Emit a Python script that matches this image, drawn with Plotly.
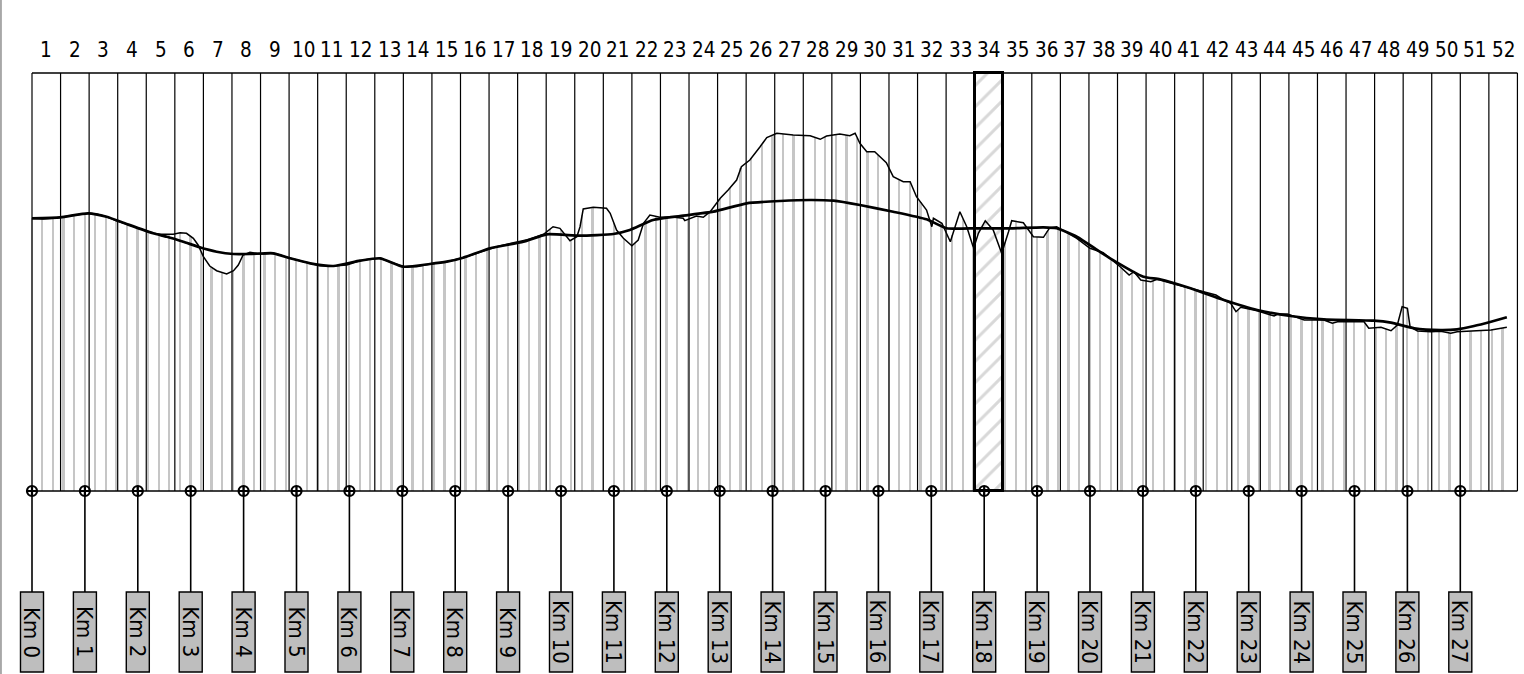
import numpy as np
import plotly.graph_objects as go

# ---------------- data ----------------
column_labels = [str(i) for i in range(1, 53)]
column_width_km = 0.54
highlight_column = 34
frame_top = 418          # elevation of the frame top (m above datum)
km_marks = list(range(0, 28))
km_labels = [f"Km {k}" for k in km_marks]
hatch_step_km = 0.2

terrain_km = [0.00, 0.21, 0.40, 0.54, 0.78, 1.06, 1.22, 1.41, 1.60, 1.79, 1.98, 2.17, 2.29, 2.42,
              2.55, 2.67, 2.80, 2.92, 3.05, 3.14, 3.24, 3.36, 3.49, 3.68, 3.81, 3.90, 3.99, 4.12,
              4.25, 4.37, 4.56, 4.69, 4.88, 5.07, 5.26, 5.44, 5.70, 5.95, 6.20, 6.39, 6.58, 6.77,
              7.02, 7.27, 7.52, 7.84, 8.15, 8.47, 8.78, 9.10, 9.41, 9.67, 9.85, 9.98, 10.08, 10.17,
              10.30, 10.36, 10.42, 10.61, 10.86, 10.93, 11.05, 11.18, 11.34, 11.46, 11.56, 11.68,
              11.87, 12.06, 12.31, 12.34, 12.56, 12.69, 12.82, 13.01, 13.16, 13.32, 13.41, 13.57,
              13.76, 13.89, 14.08, 14.39, 14.71, 14.90, 15.02, 15.27, 15.46, 15.56, 15.65, 15.78,
              15.93, 16.15, 16.28, 16.47, 16.60, 16.72, 16.91, 17.01, 17.04, 17.20, 17.36, 17.54,
              17.67, 17.80, 17.89, 18.02, 18.17, 18.33, 18.46, 18.52, 18.74, 18.93, 19.12, 19.24,
              19.37, 19.75, 20.00, 20.25, 20.57, 20.74, 20.83, 20.96, 21.15, 21.27, 21.59, 21.90,
              22.22, 22.38, 22.53, 22.66, 22.76, 22.85, 23.16, 23.48, 23.55, 23.73, 24.05, 24.42,
              24.58, 24.68, 25.18, 25.27, 25.50, 25.69, 25.81, 25.90, 26.00, 26.05, 26.19, 26.44,
              26.63, 26.82, 26.94, 27.26, 27.58, 27.88]
terrain_elev = [272.7, 272.0, 272.7, 273.7, 276.0, 277.7, 277.0, 274.3, 270.3, 267.0, 263.3, 260.0, 257.7, 256.7,
                257.0, 256.7, 258.3, 257.7, 252.7, 246.0, 234.3, 225.0, 220.3, 217.0, 220.3, 226.0, 236.0, 238.7,
                237.7, 237.0, 237.7, 236.0, 232.7, 230.3, 227.7, 225.3, 225.0, 226.0, 230.3, 232.0, 232.7, 229.3,
                224.3, 224.3, 227.0, 229.3, 233.3, 238.7, 244.3, 248.3, 251.7, 256.7, 264.3, 262.7, 256.0, 250.3,
                254.3, 264.3, 282.0, 283.7, 282.7, 277.7, 261.0, 252.7, 245.3, 251.0, 267.7, 276.0,
                273.7, 274.3, 272.7, 270.3, 275.0, 273.7, 279.3, 292.7, 301.0, 311.0, 324.3, 331.0,
                344.0, 353.5, 357.7, 356.0, 355.3, 351.7, 355.0, 357.0, 355.3, 357.7, 347.7, 339.3,
                339.3, 328.3, 314.3, 309.3, 309.3, 294.3, 281.0, 264.3, 272.7, 267.7, 249.3, 279.3,
                264.3, 242.7, 257.7, 270.3, 261.0, 237.7, 259.3, 270.3, 268.3, 254.3, 253.7, 263.3,
                264.3, 252.7, 242.7, 238.3, 224.3, 216.0, 219.3, 211.0, 209.3, 211.7, 207.0, 202.7,
                197.7, 196.0, 191.0, 187.7, 179.3, 183.7, 180.3, 175.0, 177.0, 177.0, 171.0, 171.0,
                167.7, 169.3, 169.3, 162.7, 163.7, 160.3, 166.0, 184.3, 182.7, 164.3, 160.0, 159.3,
                159.7, 157.7, 159.3, 160.0, 161.0, 163.7]

smooth_km = [0.00, 0.54, 1.06, 1.41, 1.79, 2.29, 2.55, 2.86, 3.17, 3.49, 3.81, 4.12, 4.56, 4.88,
             5.26, 5.70, 6.20, 6.58, 7.02, 7.52, 7.84, 8.15, 8.66, 9.29, 9.73, 10.36, 10.99, 11.30,
             11.74, 12.25, 12.88, 13.51, 14.14, 14.71, 15.15, 15.65, 16.28, 16.91, 17.29, 17.86,
             18.49, 19.12, 19.37, 19.75, 20.38, 21.01, 21.32, 21.90, 22.53, 23.16, 23.79, 24.42,
             25.36, 25.69, 26.13, 26.63, 26.94, 27.26, 27.58, 27.88]
smooth_elev = [272.7, 273.7, 277.7, 274.3, 267.0, 257.7, 254.3, 249.3, 243.7, 239.3, 237.0, 237.0, 237.7, 232.7,
               227.7, 225.0, 230.3, 232.7, 224.3, 227.0, 229.3, 233.3, 242.7, 249.3, 256.7, 255.3, 257.0, 261.0,
               271.0, 275.0, 279.3, 287.7, 290.0, 291.0, 290.3, 286.0, 279.3, 271.7, 262.7, 262.7,
               262.7, 263.7, 262.7, 254.3, 232.7, 214.3, 211.7, 202.7, 191.0, 181.0, 175.0, 171.7,
               170.3, 168.3, 162.7, 161.0, 161.7, 165.0, 169.3, 173.7]

# ---------------- derived geometry ----------------
n_cols = len(column_labels)
total_km = n_cols * column_width_km
col_edges = [i * column_width_km for i in range(n_cols + 1)]
col_centers = [(i + 0.5) * column_width_km for i in range(n_cols)]

hatch_km = np.round(np.arange(0, terrain_km[-1] + 1e-6, hatch_step_km), 3)
hatch_h = np.interp(hatch_km, terrain_km, terrain_elev)

stem_bottom = -101
box_top, box_bottom = -101, -181
box_half = 0.2175
label_y = 441

FONT = "Liberation Sans Narrow, DejaVu Sans Condensed, Arial Narrow, sans-serif"

fig = go.Figure()

# gray station hatching
fig.add_trace(go.Bar(x=hatch_km, y=hatch_h, width=0.034, base=0,
                     marker=dict(color="#c6c6c6", line=dict(width=0)),
                     hoverinfo="skip", showlegend=False))

# highlighted column
hc = highlight_column - 1
fig.add_trace(go.Bar(x=[col_centers[hc]], y=[frame_top], width=column_width_km, base=0,
                     marker=dict(color="white",
                                 pattern=dict(shape="/", fgcolor="#b2b2b2", bgcolor="white",
                                              size=15, solidity=0.2),
                                 line=dict(color="black", width=3)),
                     hoverinfo="skip", showlegend=False))

# column lines
cx, cy = [], []
for e in col_edges:
    cx += [e, e, None]
    cy += [0, frame_top, None]
fig.add_trace(go.Scatter(x=cx, y=cy, mode="lines", line=dict(color="black", width=1.2),
                         hoverinfo="skip", showlegend=False))

# frame top and baseline
fig.add_trace(go.Scatter(x=[0, total_km, None, 0, total_km], y=[frame_top, frame_top, None, 0, 0],
                         mode="lines", line=dict(color="black", width=1.3),
                         hoverinfo="skip", showlegend=False))

# terrain and smoothed profile
fig.add_trace(go.Scatter(x=terrain_km, y=terrain_elev, mode="lines",
                         line=dict(color="black", width=1.5), name="Terreno", showlegend=False))
fig.add_trace(go.Scatter(x=smooth_km, y=smooth_elev, mode="lines",
                         line=dict(color="black", width=2.7, shape="spline", smoothing=0.5),
                         name="Rasante", showlegend=False))

# km stems and markers
sx, sy = [], []
for k in km_marks:
    sx += [k, k, None]
    sy += [0, stem_bottom, None]
fig.add_trace(go.Scatter(x=sx, y=sy, mode="lines", line=dict(color="black", width=1.6),
                         hoverinfo="skip", showlegend=False))
fig.add_trace(go.Scatter(x=km_marks, y=[0] * len(km_marks), mode="markers",
                         marker=dict(symbol="circle-cross-open", size=10, color="black",
                                     line=dict(color="black", width=2.2)),
                         hoverinfo="skip", showlegend=False))

shapes = []
annotations = []
for k, lab in zip(km_marks, km_labels):
    shapes.append(dict(type="rect", xref="x", yref="y", x0=k - box_half, x1=k + box_half,
                       y0=box_bottom, y1=box_top, fillcolor="#bebebe",
                       line=dict(color="black", width=1.4)))
    annotations.append(dict(x=k, y=(box_top + box_bottom) / 2, xref="x", yref="y", text=lab,
                            showarrow=False, textangle=90,
                            font=dict(family=FONT, size=22, color="black")))

for c, lab in zip(col_centers, column_labels):
    annotations.append(dict(x=c, y=label_y, xref="x", yref="y", text=lab, showarrow=False,
                            font=dict(family=FONT, size=20.5, color="black")))

# page border at the left
shapes.append(dict(type="line", xref="paper", yref="paper", x0=0.0006, x1=0.0006, y0=0, y1=1,
                   line=dict(color="#a8a8a8", width=2)))

px_per_km = 52.9
x0 = -32 / px_per_km
x1 = x0 + 1524 / px_per_km

fig.update_layout(
    width=1524, height=674,
    margin=dict(l=0, r=0, t=0, b=0),
    paper_bgcolor="white", plot_bgcolor="white",
    barmode="overlay", bargap=0,
    xaxis=dict(range=[x0, x1], visible=False, fixedrange=True),
    yaxis=dict(range=[-183, 491], visible=False, fixedrange=True),
    shapes=shapes, annotations=annotations,
    showlegend=False,
)

fig.write_html("out.html", config={"displayModeBar": False},
               post_script="document.body.style.margin='0';")
